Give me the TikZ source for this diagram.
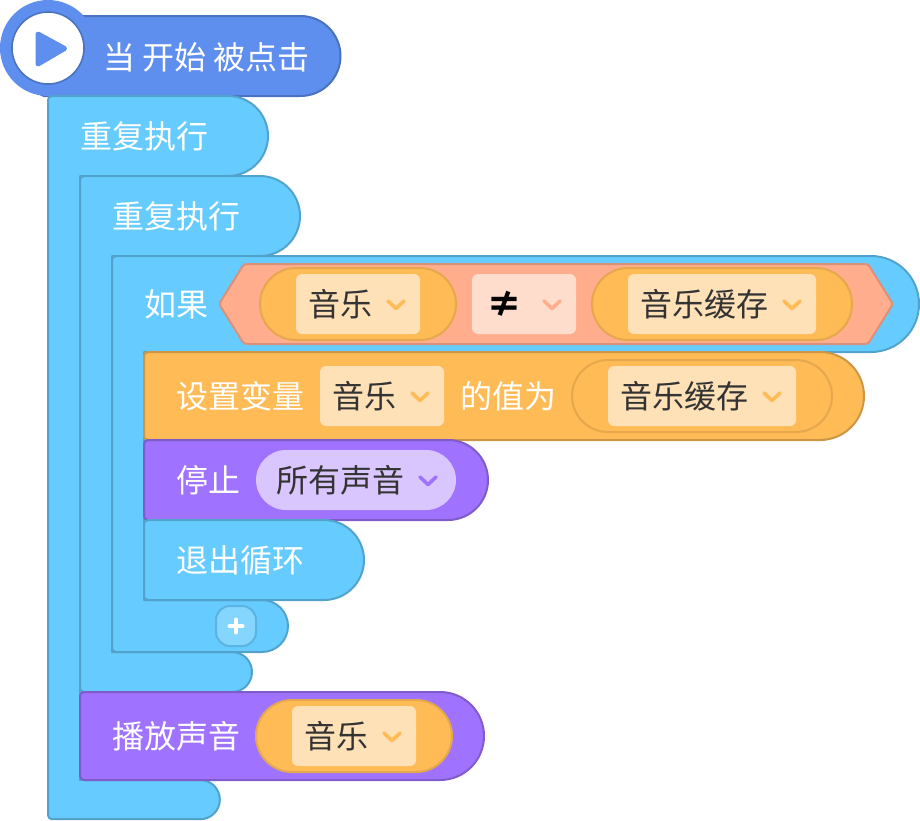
\documentclass[tikz,border=0pt]{standalone}
\usepackage{fontspec}
\setmainfont{Noto Sans CJK SC}
\definecolor{hatF}{HTML}{5E8EEE}
\definecolor{hatS}{HTML}{4A72BE}
\definecolor{bluF}{HTML}{66CCFF}
\definecolor{bluS}{HTML}{52A3CC}
\definecolor{orgF}{HTML}{FFBB55}
\definecolor{orgS}{HTML}{CC9644}
\definecolor{orgL}{HTML}{E5A84D}
\definecolor{purF}{HTML}{9F72FF}
\definecolor{purS}{HTML}{7F5BCC}
\definecolor{salF}{HTML}{FFAD8C}
\definecolor{salS}{HTML}{D9917A}
\definecolor{ddO}{HTML}{FFE1B8}
\definecolor{ddS}{HTML}{FFDDCC}
\definecolor{ddP}{HTML}{D9C6FF}
\definecolor{txtD}{HTML}{333333}
\tikzset{
  x=1pt,y=-1pt,
  blk/.style={line width=2pt,line join=round},
  blue/.style={blk,fill=bluF,draw=bluS},
  orng/.style={blk,fill=orgF,draw=orgS},
  purp/.style={blk,fill=purF,draw=purS},
  hatb/.style={blk,fill=hatF,draw=hatS},
  lbl/.style={inner sep=0pt,outer sep=0pt,anchor=base west,font=\fontsize{32}{32}\selectfont},
  wlbl/.style={lbl,text=white},
  dlbl/.style={lbl,text=txtD},
  chev/.style={line width=3.6pt,line cap=round,line join=round},
  oval/.style={line width=2pt,fill=orgF,draw=orgL},
}
% simple block: left, top, right, bottom, style
\newcommand\capsule[5]{%
  \pgfmathsetmacro\rr{(#4-#2)/2}%
  \draw[#5] ({#1},{#2+4}) arc[start angle=180,end angle=90,radius=4pt]
    -- ({#3-\rr},{#2}) arc[start angle=90,end angle=-90,radius=\rr pt]
    -- ({#1+4},{#4}) arc[start angle=270,end angle=180,radius=4pt] -- cycle;}
% dropdown box: left, top, right, bottom, fill
\newcommand\ddbox[5]{\fill[#5,rounded corners=6pt] (#1,#2) rectangle (#3,#4);}
% chevron: centre x, centre y, colour
\newcommand\chv[3]{\draw[chev,#3] ({#1-8},{#2-3.5}) -- ({#1},{#2+4}) -- ({#1+8},{#2-3.5});}
% oval: left, top, right, bottom
\newcommand\ovl[4]{\pgfmathsetmacro\rr{(#4-#2)/2}%
  \draw[oval,rounded corners=\rr pt] (#1,#2) rectangle (#3,#4);}
\begin{document}
\begin{tikzpicture}
\useasboundingbox (0,0) rectangle (920,820);
% hat block
\capsule{40}{16}{340.5}{96}{hatb}
\fill[hatF] (48,48) circle (48pt);
\draw[fill=white,draw=hatS,line width=1.6pt] (48,48) circle (36pt);
\draw[fill=hatF,draw=hatF,line width=5pt,line join=round] (38,34) -- (64.5,48.5) -- (38,64) -- cycle;
\node[wlbl] (hat) at (103,69.5) {当 开始 被点击};
% outer repeat
\draw[blue] (48,100) arc[start angle=180,end angle=90,radius=4pt]
  -- (228,96) arc[start angle=90,end angle=-90,radius=40pt]
  -- (80,176) -- (80,780) -- (200.25,780) arc[start angle=90,end angle=-90,radius=19.6pt]
  -- (52,819.2) arc[start angle=270,end angle=180,radius=4pt] -- cycle;
\node[wlbl] (r1) at (80,148.5) {重复执行};
% inner repeat
\draw[blue] (80,180) arc[start angle=180,end angle=90,radius=4pt]
  -- (260,176) arc[start angle=90,end angle=-90,radius=40pt]
  -- (112,256) -- (112,652) -- (232,652) arc[start angle=90,end angle=-90,radius=20pt]
  -- (84,692) arc[start angle=270,end angle=180,radius=4pt] -- cycle;
\node[wlbl] (r2) at (112,228.5) {重复执行};
% if
\draw[blue] (112,260) arc[start angle=180,end angle=90,radius=4pt]
  -- (871,256) arc[start angle=90,end angle=-90,radius=48pt]
  -- (144,352) -- (144,600) -- (262,600) arc[start angle=90,end angle=-90,radius=26pt]
  -- (116,652) arc[start angle=270,end angle=180,radius=4pt] -- cycle;
\node[wlbl] (ifl) at (144,316.5) {如果};
% boolean
\draw[line width=2pt,fill=salF,draw=salS,rounded corners=3pt]
  (219,304) -- (244,264) -- (868,264) -- (893,304) -- (868,344) -- (244,344) -- cycle;
\ovl{260}{268}{456}{340}
\ddbox{296}{274}{420}{334}{ddO}
\node[dlbl] (a1) at (308,316.5) {音乐};
\chv{396}{304.5}{orgF}
\ddbox{472}{274}{576}{334}{ddS}
\node[lbl,text=black,font=\fontsize{36}{36}\selectfont\bfseries,anchor=base] (ne) at (504,317) {≠};
\chv{552}{304.5}{salF}
\ovl{592}{268}{852}{340}
\ddbox{628}{274}{816}{334}{ddO}
\node[dlbl] (a2) at (640,316.5) {音乐缓存};
\chv{792}{304.5}{orgF}
% set variable
\capsule{144}{352}{864}{440}{orng}
\node[wlbl] (s1) at (176,408.5) {设置变量};
\ddbox{320}{366}{444}{426}{ddO}
\node[dlbl] (s2) at (332,408.5) {音乐};
\chv{420}{396.5}{orgF}
\node[wlbl] (s3) at (460.5,408.5) {的值为};
\draw[line width=2pt,fill=orgF,draw=orgL,rounded corners=36pt] (572,360) rectangle (832,432);
\ddbox{608}{366}{796}{426}{ddO}
\node[dlbl] (s4) at (620,408.5) {音乐缓存};
\chv{772}{396.5}{orgF}
% stop
\capsule{144}{440}{488}{520}{purp}
\node[wlbl] (p1) at (176,492.5) {停止};
\fill[ddP,rounded corners=30pt] (256,450) rectangle (456,510);
\node[dlbl] (p2) at (276,492.5) {所有声音};
\chv{428}{480.5}{purF}
% break
\capsule{144}{520}{364}{600}{blue}
\node[wlbl] (b1) at (176,572.5) {退出循环};
% plus
\draw[line width=2pt,fill=white!20!bluF,draw=bluS!60!bluF,rounded corners=14pt] (216,606) rectangle (256,646);
\draw[white,line width=4pt,line cap=round] (236,619.5) -- (236,632.5) (229.5,626) -- (242.5,626);
% play
\capsule{80}{692}{484}{780}{purp}
\node[wlbl] (m1) at (112,748.5) {播放声音};
\ovl{256}{700}{452}{772}
\ddbox{292}{706}{416}{766}{ddO}
\node[dlbl] (m2) at (304,748.5) {音乐};
\chv{392}{736.5}{orgF}
\end{tikzpicture}
\end{document}
